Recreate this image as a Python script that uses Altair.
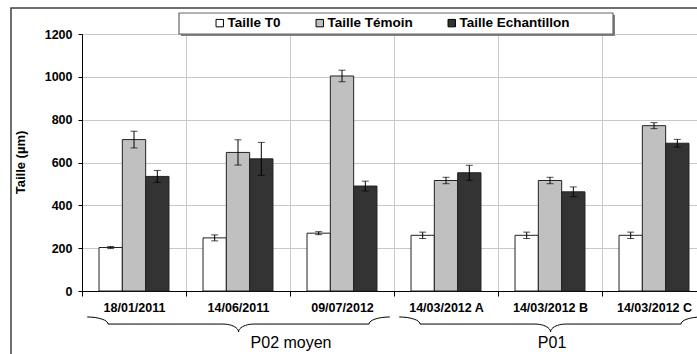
import altair as alt
import numpy as np
import pandas as pd

# Sampling dates and the three size series (mean and error, in µm)
dates = ["18/01/2011", "14/06/2011", "09/07/2012", "14/03/2012 A", "14/03/2012 B", "14/03/2012 C"]
series = ["Taille T0", "Taille Témoin", "Taille Echantillon"]
series_colors = ["#ffffff", "#c0c0c0", "#333333"]

t0 = [203, 248, 270, 260, 260, 260]
t0_err = [5, 14, 7, 15, 15, 15]
temoin = [707, 647, 1004, 516, 516, 772]
temoin_err = [39, 59, 27, 15, 15, 14]
echant = [535, 617, 490, 552, 463, 690]
echant_err = [28, 77, 23, 35, 23, 18]

# Site groups spanning the dates (in category index units)
groups = ["P02 moyen", "P01"]
group_start = [0, 3]
group_end = [3, 6]
group_label_pos = [2.01, 4.52]

y_ticks = [0, 200, 400, 600, 800, 1000, 1200]

FONT = "Liberation Sans"
STEP = 104
N = len(dates)

rows = []
for s, vals, errs in zip(series, [t0, temoin, echant], [t0_err, temoin_err, echant_err]):
    for d, v, e in zip(dates, vals, errs):
        rows.append({"date": d, "series": s, "value": v, "err": e})
df = pd.DataFrame(rows)

# Curly brace outlines under each group of dates
brace_rows = []
for g, a, b in zip(groups, group_start, group_end):
    x0, x1 = a + 0.05, b - 0.04
    tip = (x0 + x1) / 2
    t = np.linspace(0, np.pi / 2, 12)
    pts = []
    pts += list(zip(x0 + 0.2 * np.sin(t), 0.47 * (1 - np.cos(t))))
    pts += list(zip(tip - 0.15 + 0.15 * np.sin(t), 0.47 + 0.53 * (1 - np.cos(t))))
    right = [(2 * tip - px, py) for px, py in reversed(pts)]
    pts += right
    for i, (px, py) in enumerate(pts):
        brace_rows.append({"group": g, "bx": px, "by": py, "order": i})
brace_df = pd.DataFrame(brace_rows)
label_df = pd.DataFrame({"group": groups, "bx": group_label_pos, "by": [1.73, 1.73]})

x_enc = alt.X(
    "date:N",
    sort=dates,
    scale=alt.Scale(range=[0, STEP * N], paddingInner=0, paddingOuter=0),
    axis=alt.Axis(
        title=None, labelAngle=0, tickBand="extent", grid=True,
        gridColor="#c8c8c8", gridWidth=1,
        domainColor="#000000", tickColor="#000000", tickSize=5,
        labelFont=FONT, labelFontSize=12.5, labelFontWeight="bold",
        labelColor="#000000", labelPadding=5,
    ),
)
xoff = alt.XOffset("series:N", sort=series,
                   scale=alt.Scale(paddingInner=0, paddingOuter=0.73))
y_enc = alt.Y(
    "value:Q",
    scale=alt.Scale(domain=[0, 1200], nice=False),
    axis=alt.Axis(
        values=y_ticks, format="d", title="Taille (µm)", grid=True,
        gridColor="#c8c8c8", gridWidth=1,
        domainColor="#000000", tickColor="#000000", tickSize=4,
        labelFont=FONT, labelFontSize=12.5, labelFontWeight="bold",
        labelColor="#000000", labelPadding=6,
        titleFont=FONT, titleFontSize=13, titleFontWeight="bold",
        titleColor="#000000", titleX=-62, titleY=128, titleBaseline="middle",
    ),
)

base = alt.Chart(df)

bars = base.mark_bar(stroke="#222222", strokeWidth=1).encode(
    x=x_enc,
    xOffset=xoff,
    y=y_enc,
    color=alt.Color(
        "series:N", sort=series,
        scale=alt.Scale(domain=series, range=series_colors),
        legend=alt.Legend(
            title=None, orient="none", legendX=131, legendY=-18,
            direction="horizontal", symbolType="square", symbolSize=55,
            symbolStrokeColor="#000000", symbolStrokeWidth=1,
            labelFont=FONT, labelFontSize=13.5, labelFontWeight="bold",
            labelColor="#000000", columnPadding=32, labelOffset=1, padding=0,
        ),
    ),
)

err = base.transform_calculate(
    lo="datum.value - datum.err", hi="datum.value + datum.err"
)
err_rule = err.mark_rule(color="#000000", strokeWidth=1).encode(
    x=alt.X("date:N", sort=dates), xOffset=xoff,
    y=alt.Y("lo:Q"), y2="hi:Q",
)
cap_lo = err.mark_tick(color="#000000", size=7, thickness=1).encode(
    x=alt.X("date:N", sort=dates), xOffset=xoff, y=alt.Y("lo:Q"),
)
cap_hi = err.mark_tick(color="#000000", size=7, thickness=1).encode(
    x=alt.X("date:N", sort=dates), xOffset=xoff, y=alt.Y("hi:Q"),
)

one = alt.Data(values=[{}])
# outer chart frame and the legend box with its shadow
frame = alt.Chart(one).mark_rect(fill=None, stroke="#404040", strokeWidth=1.5).encode(
    x=alt.value(-71), x2=alt.value(720), y=alt.value(-26), y2=alt.value(400)
)
legend_shadow = alt.Chart(one).mark_rect(fill="#808080").encode(
    x=alt.value(99), x2=alt.value(533), y=alt.value(-19), y2=alt.value(2)
)
legend_box = alt.Chart(one).mark_rect(fill="#ffffff", stroke="#666666", strokeWidth=1.2).encode(
    x=alt.value(97), x2=alt.value(531), y=alt.value(-21), y2=alt.value(0)
)

main = alt.layer(bars, err_rule, cap_lo, cap_hi)

bx = alt.X("bx:Q", scale=alt.Scale(domain=[0, N], range=[0, STEP * N]), axis=None)
by = alt.Y("by:Q", scale=alt.Scale(domain=[0, 1], range=[283, 298]), axis=None)

braces = alt.Chart(brace_df).mark_line(color="#000000", strokeWidth=1).encode(
    x=bx, y=by, detail="group:N", order="order:Q"
)
group_labels = alt.Chart(label_df).mark_text(
    font=FONT, fontSize=16, color="#000000", baseline="middle", align="center"
).encode(x=bx, y=by, text="group:N")
brace_layer = alt.layer(braces, group_labels)

chart = alt.layer(frame, legend_shadow, legend_box, main, brace_layer).resolve_scale(
    x="independent", y="independent"
).properties(
    width=615, height=257,
    autosize=alt.AutoSizeParams(type="none"),
    padding={"left": 82, "top": 34, "right": 0, "bottom": 63},
    background="#ffffff",
).configure_view(stroke=None)

chart.save("out.html", embed_options={"renderer": "svg", "actions": False})
